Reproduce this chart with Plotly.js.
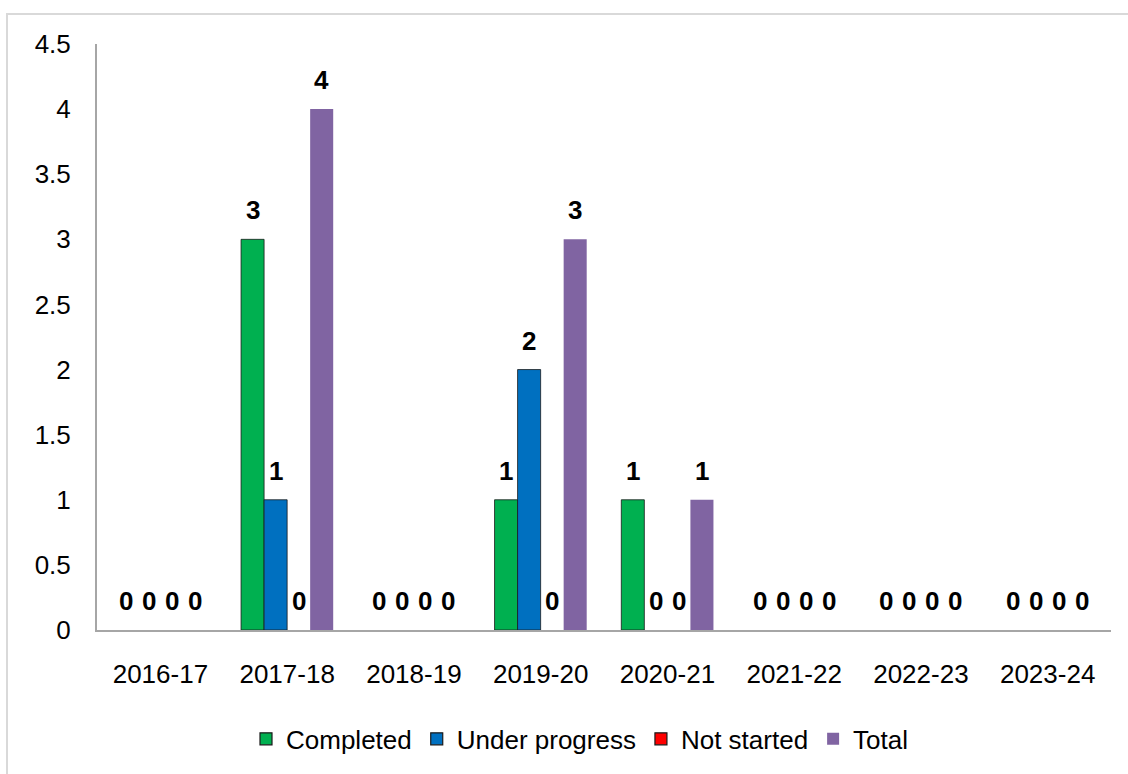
<!DOCTYPE html>
<html>
<head>
<meta charset="utf-8">
<script src="https://cdn.plot.ly/plotly-3.0.1.min.js"></script>
<style>
  html, body { margin: 0; padding: 0; background: #ffffff; width: 1128px; height: 774px; overflow: hidden; }
  #frame { position: absolute; left: 6px; top: 13px; width: 1200px; height: 900px; border: 2px solid #d9d9d9; box-sizing: border-box; }
  #chart { position: absolute; left: 0; top: 0; width: 1128px; height: 774px; }
</style>
</head>
<body>
<div id="frame"></div>
<div id="chart"></div>
<script>
const years = ['2016-17', '2017-18', '2018-19', '2019-20', '2020-21', '2021-22', '2022-23', '2023-24'];
const seriesNames = ['Completed', 'Under progress', 'Not started', 'Total'];
const completed = [0, 3, 0, 1, 1, 0, 0, 0];
const underProgress = [0, 1, 0, 2, 0, 0, 0, 0];
const notStarted = [0, 0, 0, 0, 0, 0, 0, 0];
const total = [0, 4, 0, 3, 1, 0, 0, 0];

const seriesValues = [completed, underProgress, notStarted, total];
const colors = ['#00B050', '#0070C0', '#FF0000', '#8064A2'];
const outlines = ['#1a1a1a', '#1a1a1a', '#1a1a1a', '#8064A2'];
const outlineWidths = [0.8, 0.8, 0.8, 0];

const W = 1128, H = 774;
const margin = {l: 97, r: 17, t: 44, b: 138};
const bargap = 0.273;
const fontFamily = '"Liberation Sans", Arial, sans-serif';
const fs = 26;

const plotW = W - margin.l - margin.r;
const catW = plotW / years.length;
const barW = catW * (1 - bargap) / seriesValues.length;

// Data bars (no outline on zero-height bars)
const traces = seriesValues.map((vals, i) => ({
  type: 'bar',
  name: seriesNames[i],
  x: years,
  y: vals,
  showlegend: false,
  marker: {
    color: colors[i],
    line: {color: outlines[i], width: vals.map(v => v === 0 ? 0 : outlineWidths[i])}
  },
  hoverinfo: 'x+y+name'
}));

// Legend entries on hidden overlay axes so they do not take group slots
seriesNames.forEach((name, i) => {
  traces.push({
    type: 'bar',
    name: name,
    x: [null], y: [null],
    xaxis: 'x2', yaxis: 'y2',
    showlegend: true,
    marker: {color: colors[i], line: {color: outlines[i], width: outlineWidths[i] ? 1.2 : 0}},
    hoverinfo: 'skip'
  });
});

const annotations = [];
seriesValues.forEach((vals, i) => {
  vals.forEach((v, j) => {
    annotations.push({
      x: years[j], y: v, xref: 'x', yref: 'y',
      text: String(v), showarrow: false,
      xanchor: 'center', yanchor: 'middle',
      xshift: (i - (seriesValues.length - 1) / 2) * barW,
      yshift: 29,
      font: {family: fontFamily, size: fs, color: '#000000', weight: 'bold'}
    });
  });
});

const layout = {
  width: W, height: H,
  margin: margin,
  paper_bgcolor: 'rgba(0,0,0,0)',
  plot_bgcolor: 'rgba(0,0,0,0)',
  barmode: 'group',
  bargap: bargap,
  bargroupgap: 0,
  font: {family: fontFamily, size: fs, color: '#000000'},
  showlegend: true,
  legend: {
    orientation: 'h', xref: 'paper', x: (580 - margin.l) / plotW, xanchor: 'center',
    y: (H - margin.b - 746) / (H - margin.t - margin.b), yanchor: 'middle',
    font: {family: fontFamily, size: fs, color: '#000000'},
    itemwidth: 30, tracegroupgap: 0, traceorder: 'normal'
  },
  xaxis: {
    type: 'category',
    showline: true, linecolor: '#a6a6a6', linewidth: 2,
    ticks: '', showgrid: false, zeroline: false,
    tickfont: {family: fontFamily, size: fs, color: '#000000'},
    ticklabelstandoff: 20
  },
  yaxis: {
    range: [0, 4.5], dtick: 0.5, tick0: 0,
    showline: true, linecolor: '#a6a6a6', linewidth: 2,
    ticks: '', showgrid: false, zeroline: false,
    tickfont: {family: fontFamily, size: fs, color: '#000000'},
    ticklabelstandoff: 19
  },
  xaxis2: {overlaying: 'x', visible: false, range: [0, 1]},
  yaxis2: {overlaying: 'y', visible: false, range: [0, 1]},
  annotations: annotations
};

Plotly.newPlot('chart', traces, layout, {displayModeBar: false, staticPlot: true});
</script>
</body>
</html>
